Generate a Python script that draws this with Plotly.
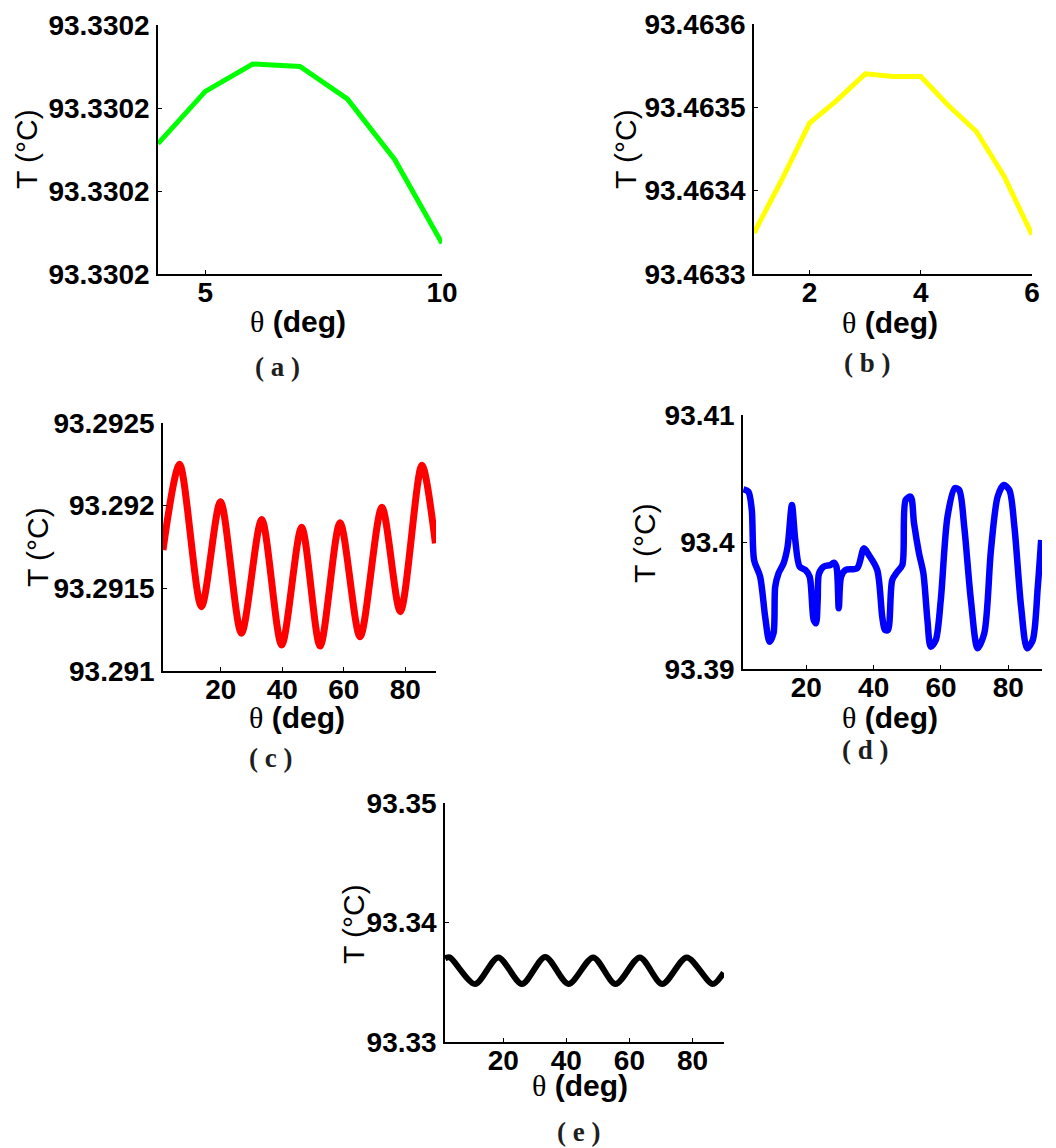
import plotly.graph_objects as go

W, H = 1056, 1148

# ---- (a) green ----
theta_a = [4, 5, 6, 7, 8, 9, 10]
temp_a = [93.3301957, 93.3302020, 93.3302053, 93.3302050, 93.3302011, 93.3301938, 93.3301837]
yticks_a = [93.33018, 93.33019, 93.33020, 93.33021]
xticks_a = [5, 10]

# ---- (b) yellow ----
theta_b = [1, 1.5, 2, 2.5, 3, 3.5, 4, 4.5, 5, 5.5, 6]
temp_b = [93.4633492, 93.4634131, 93.4634811, 93.4635090, 93.4635402, 93.4635370,
          93.4635370, 93.4635018, 93.4634710, 93.4634170, 93.4633471]
yticks_b = [93.4633, 93.4634, 93.4635, 93.4636]
xticks_b = [2, 4, 6]

# ---- (c) red ----
theta_c = [1.2, 6.6, 13.7, 19.9, 26.7, 33.3, 39.8, 46.3, 52.3, 58.8, 65.3, 72.4, 78.4, 85.4, 89.8]
temp_c = [93.291732, 93.292250, 93.291389, 93.292024, 93.291228, 93.291917, 93.291157,
          93.291869, 93.291151, 93.291897, 93.291207, 93.291990, 93.291359, 93.292245, 93.291772]
yticks_c = [93.291, 93.2915, 93.292, 93.2925]

# ---- (d) blue ----
theta_d = [1.32, 2.81, 3.81, 4.50, 6.29, 7.78, 9.07, 10.26, 10.76, 11.75, 13.24, 14.44, 15.73,
           16.72, 18.01, 19.70, 20.99, 22.19, 22.88, 23.38, 23.78, 25.17, 27.15, 28.15, 28.94,
           29.64, 30.33, 31.63, 35.10, 37.09, 38.58, 41.06, 42.55, 43.35, 44.24, 45.53, 47.02,
           48.52, 49.51, 51.00, 51.99, 53.48, 54.77, 55.97, 56.96, 58.45, 59.94, 61.93, 64.11,
           65.41, 66.90, 68.88, 70.87, 72.86, 74.84, 76.83, 78.62, 80.31, 81.80, 83.79, 85.57,
           87.26, 88.75, 89.75]
temp_d = [93.40415, 93.40396, 93.40252, 93.39858, 93.39727, 93.39412, 93.39215, 93.39281,
          93.39648, 93.39753, 93.39832, 93.39963, 93.40291, 93.40016, 93.39806, 93.39780,
          93.39727, 93.39386, 93.39360, 93.39543, 93.39753, 93.39806, 93.39819, 93.39837,
          93.39806, 93.39478, 93.39727, 93.39780, 93.39793, 93.39950, 93.39898, 93.39780,
          93.39412, 93.39307, 93.39307, 93.39701, 93.39766, 93.39819, 93.40331, 93.40357,
          93.40147, 93.39911, 93.39753, 93.39386, 93.39176, 93.39228, 93.39543, 93.40199,
          93.40423, 93.40409, 93.40121, 93.39543, 93.39163, 93.39281, 93.39937, 93.40357,
          93.40449, 93.40409, 93.40121, 93.39491, 93.39163, 93.39228, 93.39648, 93.40016]
yticks_d = [93.39, 93.40, 93.41]

# ---- (e) black ----
theta_e = [1.5, 3.0, 11.0, 18.4, 25.9, 33.3, 40.7, 48.5, 55.6, 63.3, 70.4, 78.2, 86.4, 89.9]
temp_e = [93.33700, 93.33708, 93.33485, 93.33708, 93.33485, 93.33712, 93.33485,
          93.33708, 93.33485, 93.33708, 93.33485, 93.33708, 93.33485, 93.33580]
yticks_e = [93.33, 93.34, 93.35]

xticks_deg = [20, 40, 60, 80]


def px_x(x):
    return x / W


def px_y(y):
    return 1 - y / H


panels = [
    dict(theta=theta_a, temp=temp_a, color="#00ff00", lw=5, xd=(158, 442), yd=(25, 274),
         xr=[4, 10], xt=xticks_a, yt=yticks_a, fmt=".4f", shape="linear"),
    dict(theta=theta_b, temp=temp_b, color="#ffff00", lw=5, xd=(754, 1032), yd=(24, 274),
         xr=[1, 6], xt=xticks_b, yt=yticks_b, fmt=".4f", shape="linear"),
    dict(theta=theta_c, temp=temp_c, color="#ff0000", lw=7, xd=(163, 436), yd=(423, 671),
         xr=[1.2, 90], xt=xticks_deg, yt=yticks_c, fmt="~f", shape="spline"),
    dict(theta=theta_d, temp=temp_d, color="#0000ff", lw=6.5, xd=(743, 1042), yd=(415, 669),
         xr=[1.2, 90], xt=xticks_deg, yt=yticks_d, fmt="~f", shape="spline"),
    dict(theta=theta_e, temp=temp_e, color="#000000", lw=6, xd=(445, 724), yd=(803, 1042),
         xr=[1.5, 90], xt=xticks_deg, yt=yticks_e, fmt="~f", shape="spline"),
]

fig = go.Figure()
tick_font = dict(family="Arial, Liberation Sans, sans-serif", size=28, color="black", weight="bold")

layout_axes = {}
for i, p in enumerate(panels, start=1):
    xa = "x" if i == 1 else f"x{i}"
    ya = "y" if i == 1 else f"y{i}"
    fig.add_trace(go.Scatter(
        x=p["theta"], y=p["temp"], mode="lines",
        line=dict(color=p["color"], width=p["lw"], shape=p["shape"],
                  smoothing=0.8 if p["shape"] == "spline" else None),
        xaxis=xa, yaxis=ya, hoverinfo="x+y",
    ))
    common = dict(showline=True, linecolor="black", linewidth=1.5, ticks="inside",
                  ticklen=4, tickwidth=1.2, tickcolor="black", showgrid=False,
                  zeroline=False, tickfont=tick_font, mirror=False, automargin=False)
    layout_axes["xaxis" if i == 1 else f"xaxis{i}"] = dict(
        domain=[px_x(p["xd"][0]), px_x(p["xd"][1])], anchor=ya,
        range=p["xr"], tickvals=p["xt"], ticklabelstandoff=-7, **common)
    layout_axes["yaxis" if i == 1 else f"yaxis{i}"] = dict(
        domain=[px_y(p["yd"][1]), px_y(p["yd"][0])], anchor=xa,
        range=[p["yt"][0], p["yt"][-1]], tickvals=p["yt"], tickformat=p["fmt"],
        ticklabelstandoff=1, **common)

fig.update_layout(**layout_axes)

ytitle = "T (°C)"
xtitle = ("<span style='font-family:Liberation Serif, Times New Roman, serif;font-weight:normal'>θ</span>"
          " <b>(deg)</b>")

title_pos = [
    # y-title centre, x-title centre, panel label centre, label text
    ((26, 149), (298, 321), (277, 367), "( a )"),
    ((625, 149), (890, 322), (867, 363), "( b )"),
    ((37, 547), (297, 717), (270, 758), "( c )"),
    ((645, 543), (890, 717), (865, 750), "( d )"),
    ((353, 924), (580, 1085), (578, 1132), "( e )"),
]

annotations = []
for yt, xt, lab, txt in title_pos:
    annotations.append(dict(
        x=px_x(yt[0]), y=px_y(yt[1]), xref="paper", yref="paper", text=ytitle,
        textangle=-90, showarrow=False, xanchor="center", yanchor="middle",
        font=dict(family="Arial, Liberation Sans, sans-serif", size=30, color="black")))
    annotations.append(dict(
        x=px_x(xt[0]), y=px_y(xt[1]), xref="paper", yref="paper", text=xtitle,
        showarrow=False, xanchor="center", yanchor="middle",
        font=dict(family="Arial, Liberation Sans, sans-serif", size=30, color="black")))
    annotations.append(dict(
        x=px_x(lab[0]), y=px_y(lab[1]), xref="paper", yref="paper", text=f"<b>{txt}</b>",
        showarrow=False, xanchor="center", yanchor="middle",
        font=dict(family="Liberation Serif, Times New Roman, serif", size=27, color="#1e1e1e")))

fig.update_layout(
    template="none",
    width=W, height=H, margin=dict(l=0, r=0, t=0, b=0, autoexpand=False),
    paper_bgcolor="white", plot_bgcolor="white", showlegend=False,
    annotations=annotations,
)

fig.write_html("out.html")
